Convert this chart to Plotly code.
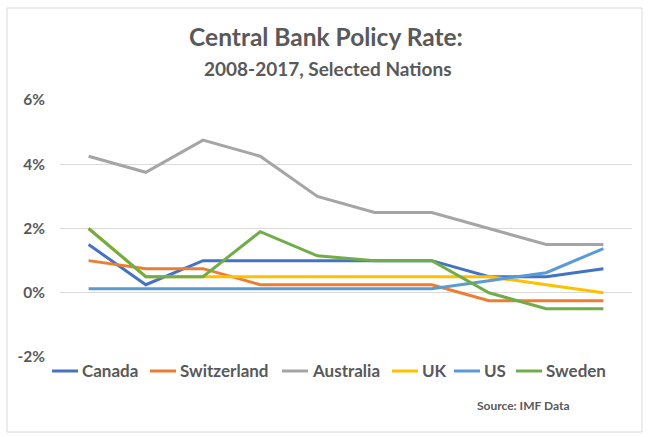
import plotly.graph_objects as go

years = ["2008", "2009", "2010", "2011", "2012", "2013", "2014", "2015", "2016", "2017"]
canada = [1.5, 0.25, 1.0, 1.0, 1.0, 1.0, 1.0, 0.5, 0.5, 0.75]
switzerland = [1.0, 0.75, 0.75, 0.25, 0.25, 0.25, 0.25, -0.25, -0.25, -0.25]
australia = [4.25, 3.75, 4.75, 4.25, 3.0, 2.5, 2.5, 2.0, 1.5, 1.5]
uk = [2.0, 0.5, 0.5, 0.5, 0.5, 0.5, 0.5, 0.5, 0.25, 0.0]
us = [0.125, 0.125, 0.125, 0.125, 0.125, 0.125, 0.125, 0.375, 0.625, 1.375]
sweden = [2.0, 0.5, 0.5, 1.9, 1.15, 1.0, 1.0, 0.0, -0.5, -0.5]

series = [
    ("Canada", canada, "#4472C4"),
    ("Switzerland", switzerland, "#ED7D31"),
    ("Australia", australia, "#A5A5A5"),
    ("UK", uk, "#FFC000"),
    ("US", us, "#5B9BD5"),
    ("Sweden", sweden, "#70AD47"),
]
ytickvals = [-2, 0, 2, 4, 6]
yticktext = ["-2%", "0%", "2%", "4%", "6%"]

FONT = "Lato"
GREY = "#595959"

# layout geometry (pixels)
L, R, T, B = 60, 20, 100, 80
W, H = 652, 437
PW, PH = W - L - R, H - T - B


def px_x(px):
    return (px - L) / PW


def px_y(py):
    return (H - B - py) / PH


legend_line_starts = [52, 150, 282, 392, 454, 516]  # legend key positions (px)
LEG_Y = 371

fig = go.Figure()
for name, vals, col in series:
    fig.add_trace(go.Scatter(x=years, y=vals, name=name, mode="lines",
                             line=dict(color=col, width=3), showlegend=False))

annotations = []
shapes = []
for yr in years:
    annotations.append(dict(x=yr, y=0, xref="x", yref="y", text=yr, showarrow=False,
                            yanchor="middle", yshift=-30,
                            font=dict(family=FONT, size=15.5, color=GREY, weight="bold")))
annotations.append(dict(x=px_x(328), y=px_y(68), xref="paper", yref="paper",
                        text="2008-2017, Selected Nations", showarrow=False,
                        xanchor="center", yanchor="middle",
                        font=dict(family=FONT, size=19, color=GREY, weight="bold")))
annotations.append(dict(x=px_x(523), y=px_y(405), xref="paper", yref="paper",
                        text="Source: IMF Data", showarrow=False,
                        xanchor="center", yanchor="middle",
                        font=dict(family=FONT, size=12, color=GREY, weight="bold")))

# manual legend
for (name, _, col), x0 in zip(series, legend_line_starts):
    shapes.append(dict(type="line", xref="paper", yref="paper",
                       x0=px_x(x0), x1=px_x(x0 + 26), y0=px_y(LEG_Y), y1=px_y(LEG_Y),
                       line=dict(color=col, width=3)))
    annotations.append(dict(x=px_x(x0 + 28), y=px_y(LEG_Y - 1), xref="paper", yref="paper",
                            text=name, showarrow=False, xanchor="left", yanchor="middle",
                            font=dict(family=FONT, size=17, color=GREY, weight="bold")))

shapes.append(dict(type="rect", xref="paper", yref="paper",
                   x0=px_x(7), x1=px_x(642), y0=px_y(432), y1=px_y(8),
                   line=dict(color="#D9D9D9", width=1), fillcolor="rgba(0,0,0,0)",
                   layer="below"))

fig.update_layout(
    width=W, height=H,
    margin=dict(l=L, r=R, t=T, b=B),
    paper_bgcolor="white", plot_bgcolor="white",
    showlegend=False,
    title=dict(text="Central Bank Policy Rate:", x=0.5, xref="container",
               y=1 - 37 / H, yref="container", xanchor="center", yanchor="middle",
               font=dict(family=FONT, size=24.5, color=GREY, weight="bold")),
    xaxis=dict(type="category", range=[-0.5, 9.5], showticklabels=False,
               showgrid=False, zeroline=False, showline=False),
    yaxis=dict(range=[-2, 6], tickvals=ytickvals, ticktext=yticktext,
               showgrid=True, gridcolor="#D9D9D9", gridwidth=1, zeroline=False,
               ticklabelstandoff=14,
               tickfont=dict(family=FONT, size=15.5, color=GREY, weight="bold")),
    annotations=annotations,
    shapes=shapes,
)
fig.write_html("out.html", config={"displayModeBar": False},
               post_script="document.body.style.margin='0';")
